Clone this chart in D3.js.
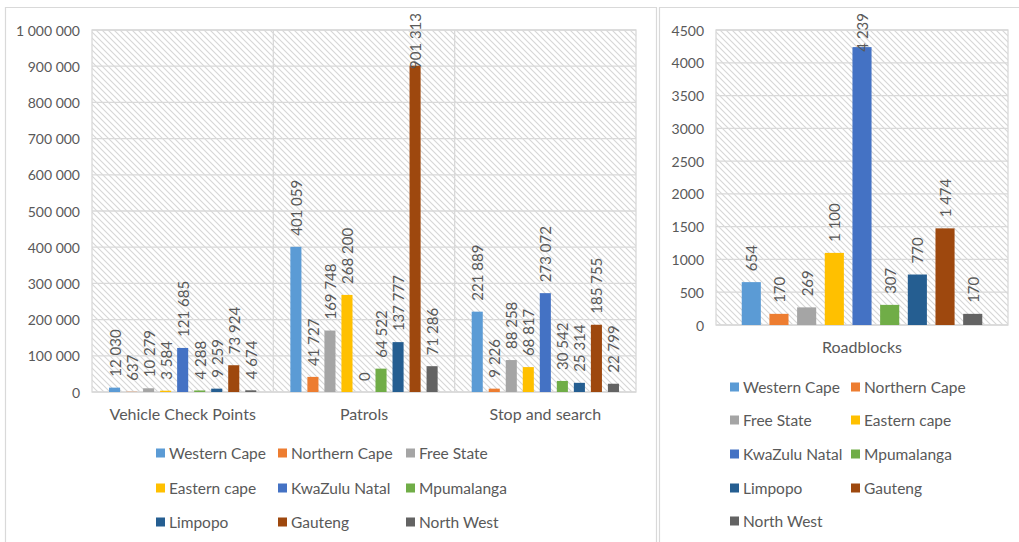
<!DOCTYPE html>
<html>
<head>
<meta charset="utf-8">
<script src="https://cdn.jsdelivr.net/npm/d3@7"></script>
<style>
  body { margin: 0; background: #fff; }
  svg { display: block; font-family: Lato, "Open Sans", sans-serif; }
  text { fill: #595959; }
</style>
</head>
<body>
<svg width="1019" height="542"></svg>
<script>
const provinces = ["Western Cape", "Northern Cape", "Free State", "Eastern cape", "KwaZulu Natal",
    "Mpumalanga", "Limpopo", "Gauteng", "North West"];
const colors = ["#5B9BD5", "#ED7D31", "#A5A5A5", "#FFC000", "#4472C4", "#70AD47", "#255E91", "#9E480E", "#636363"];

const categories = ["Vehicle Check Points", "Patrols", "Stop and search"];
const vehicleCheckPoints = [12030, 637, 10279, 3584, 121685, 4288, 9259, 73924, 4674];
const patrols = [401059, 41727, 169748, 268200, 0, 64522, 137777, 901313, 71286];
const stopAndSearch = [221889, 9226, 88258, 68817, 273072, 30542, 25314, 185755, 22799];
const leftTicks = [0, 100000, 200000, 300000, 400000, 500000, 600000, 700000, 800000, 900000, 1000000];

const roadCategories = ["Roadblocks"];
const roadblocks = [654, 170, 269, 1100, 4239, 307, 770, 1474, 170];
const rightTicks = [0, 500, 1000, 1500, 2000, 2500, 3000, 3500, 4000, 4500];

const loc = d3.formatLocale({decimal: ",", thousands: " ", grouping: [3], currency: ["", ""]});
const fmt = loc.format(",d");

let svg = d3.select("svg");

// hatch background pattern
let pat = svg.append("defs").append("pattern")
    .attr("id", "hatch").attr("patternUnits", "userSpaceOnUse")
    .attr("width", 6).attr("height", 6);
pat.append("rect").attr("width", 6).attr("height", 6).attr("fill", "#fff");
pat.append("path").attr("d", "M0,0 L6,6 M-3,3 L3,9 M3,-3 L9,3")
    .attr("stroke", "#d6d6d6").attr("stroke-width", 1.1);

// outer frames
svg.append("path").attr("d", "M5.5,545 V7.5 H656.5 V545")
    .attr("fill", "none").attr("stroke", "#d9d9d9").attr("stroke-width", 1.2);
svg.append("path").attr("d", "M659.5,545 V7.5 H1025")
    .attr("fill", "none").attr("stroke", "#d9d9d9").attr("stroke-width", 1.2);

function drawChart(opt) {
    let g = svg.append("g");
    let scY = d3.scaleLinear().domain([0, opt.max]).range([opt.bottom, opt.top]);
    let scX = d3.scaleBand().domain(opt.cats).range([opt.left, opt.right]).padding(0);
    let scInner = d3.scaleBand().domain(provinces).range([0, scX.bandwidth()])
        .paddingInner(opt.pi).paddingOuter(opt.po);

    g.append("rect")
        .attr("x", opt.left).attr("y", opt.top)
        .attr("width", opt.right - opt.left).attr("height", opt.bottom - opt.top)
        .attr("fill", "url(#hatch)").attr("stroke", "#d9d9d9").attr("stroke-width", 1.3);

    g.selectAll(".grid").data(opt.ticks).enter().append("line")
        .attr("x1", opt.left).attr("x2", opt.right)
        .attr("y1", d => scY(d)).attr("y2", d => scY(d))
        .attr("stroke", "#d9d9d9").attr("stroke-width", 1.3);

    g.selectAll(".vgrid").data(opt.cats.slice(1)).enter().append("line")
        .attr("x1", d => scX(d)).attr("x2", d => scX(d))
        .attr("y1", opt.top).attr("y2", opt.bottom)
        .attr("stroke", "#d9d9d9").attr("stroke-width", 1.3);

    g.selectAll(".ytick").data(opt.ticks).enter().append("text")
        .attr("x", opt.left - 12).attr("y", d => scY(d))
        .attr("text-anchor", "end").attr("dominant-baseline", "central")
        .style("font-size", "14px")
        .text(d => opt.tickFmt(d));

    g.selectAll(".cat").data(opt.cats).enter().append("text")
        .attr("x", d => scX(d) + scX.bandwidth() / 2).attr("y", opt.bottom + 21)
        .attr("text-anchor", "middle").attr("dominant-baseline", "central")
        .style("font-size", "16px")
        .text(d => d);

    opt.cats.forEach((cat, ci) => {
        let vals = opt.series[ci];
        let cg = g.append("g").attr("transform", `translate(${scX(cat)},0)`);
        cg.selectAll("rect").data(vals).enter().append("rect")
            .attr("x", (d, i) => scInner(provinces[i]))
            .attr("y", d => scY(d))
            .attr("width", scInner.bandwidth())
            .attr("height", d => opt.bottom - scY(d))
            .attr("fill", (d, i) => colors[i]);
        cg.selectAll("text").data(vals).enter().append("text")
            .attr("text-anchor", "start").attr("dominant-baseline", "central")
            .style("font-size", "15px")
            .text(d => fmt(d))
            .attr("transform", function(d, i) {
                let len = this.getComputedTextLength();
                let y = scY(d) - 11;
                if (y - len < 13) y = 13 + len;
                let x = scInner(provinces[i]) + scInner.bandwidth() / 2;
                return `translate(${x},${y}) rotate(-90)`;
            });
    });
}

drawChart({
    cats: categories, series: [vehicleCheckPoints, patrols, stopAndSearch],
    left: 92, right: 636, top: 30, bottom: 392, max: 1000000,
    ticks: leftTicks, tickFmt: fmt, pi: 0.35, po: 1.0
});

drawChart({
    cats: roadCategories, series: [roadblocks],
    left: 716, right: 1008, top: 30, bottom: 325, max: 4500,
    ticks: rightTicks, tickFmt: d3.format("d"), pi: 0.31, po: 0.93
});

function drawLegend(cols, rows) {
    let lg = svg.append("g");
    provinces.forEach((p, i) => {
        let x = cols[i % cols.length];
        let y = rows[Math.floor(i / cols.length)];
        lg.append("rect").attr("x", x).attr("y", y - 4.5)
            .attr("width", 9).attr("height", 9).attr("fill", colors[i]);
        lg.append("text").attr("x", x + 13).attr("y", y)
            .attr("dominant-baseline", "central")
            .style("font-size", "15.5px")
            .text(p);
    });
}

drawLegend([156, 278, 406], [453, 488, 522]);
drawLegend([730, 851], [387, 420, 454, 488, 521]);
</script>
</body>
</html>
